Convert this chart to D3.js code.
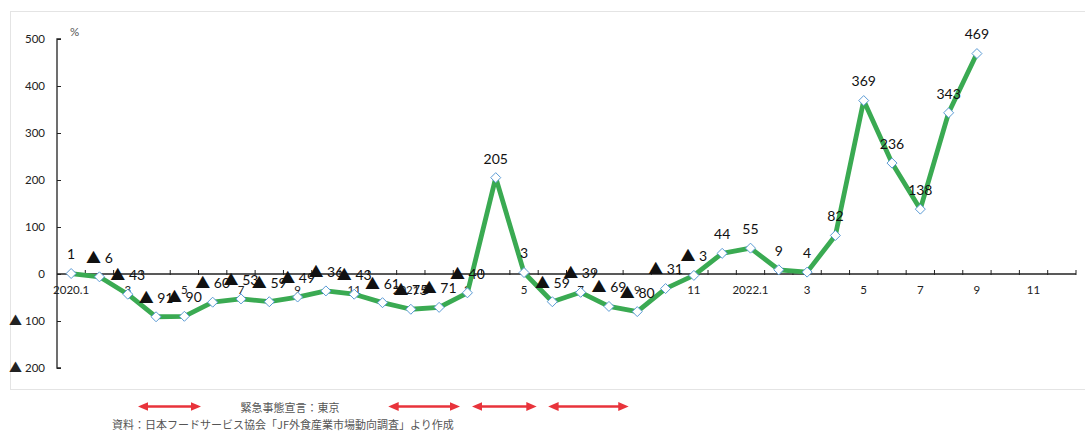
<!DOCTYPE html>
<html>
<head>
<meta charset="utf-8">
<script src="https://cdn.jsdelivr.net/npm/d3@7"></script>
<style>
  html, body { margin: 0; padding: 0; background: #fff; }
  svg { display: block; }
</style>
</head>
<body>
<svg id="chart" width="1085" height="432"></svg>
<script>
// Monthly year-on-year change (%) of restaurant sales, 2020.1 – 2022.12
const months = [
  "2020.1","2020.2","2020.3","2020.4","2020.5","2020.6","2020.7","2020.8","2020.9","2020.10","2020.11","2020.12",
  "2021.1","2021.2","2021.3","2021.4","2021.5","2021.6","2021.7","2021.8","2021.9","2021.10","2021.11","2021.12",
  "2022.1","2022.2","2022.3","2022.4","2022.5","2022.6","2022.7","2022.8","2022.9","2022.10","2022.11","2022.12"
];
const values = [
  1, -6, -43, -91, -90, -60, -53, -59, -49, -36, -43, -61,
  -75, -71, -40, 205, 3, -59, -39, -69, -80, -31, -3, 44,
  55, 9, 4, 82, 369, 236, 138, 343, 469
];
const yTicks = [500, 400, 300, 200, 100, 0, -100, -200];
// State-of-emergency periods in Tokyo, in month units from 2020.1
const emergencySpans = [[2.9, 5.05], [11.75, 14.2], [14.7, 16.9], [17.4, 20.15]];
const emergencyLabel = "緊急事態宣言：東京";
const sourceNote = "資料：日本フードサービス協会「JF外食産業市場動向調査」より作成";

const svg = d3.select("#chart");
const latin = "Lato, 'Noto Sans', sans-serif";
const cjk = "'Noto Sans CJK JP', 'Noto Sans', sans-serif";

// chart frame
svg.append("rect")
  .attr("x", 10.5).attr("y", 11.5).attr("width", 1090).attr("height", 378)
  .attr("fill", "none").attr("stroke", "#e4e4e4").attr("stroke-width", 1);

const plotLeft = 57, plotRight = 1076;
const x = d3.scaleBand().domain(months).range([plotLeft, plotRight]).paddingInner(0).paddingOuter(0);
const xCont = d3.scaleLinear().domain([0, months.length]).range([plotLeft, plotRight]);
const y = d3.scaleLinear().domain([-200, 500]).range([368, 39]);

// negative numbers are written with a leading black triangle
function writeValue(sel, v, triSize) {
  if (v < 0) {
    sel.append("tspan").attr("font-family", cjk).attr("font-size", triSize).text("▲");
    sel.append("tspan").text(" " + Math.abs(v));
  } else {
    sel.text(String(v));
  }
}

// y axis
const yAxis = svg.append("g").attr("transform", `translate(${plotLeft},0)`)
  .call(d3.axisRight(y).tickValues(yTicks).tickSize(4).tickFormat(""));
yAxis.select(".domain").attr("d", `M4,${y(500)}H0V${y(-200)}H4`).attr("stroke", "#222").attr("stroke-width", 1.3);
yAxis.selectAll(".tick line").attr("stroke", "#222");
svg.append("g").selectAll("text").data(yTicks).join("text")
  .attr("x", 45).attr("y", d => y(d)).attr("dy", "0.35em")
  .attr("text-anchor", "end")
  .attr("font-family", latin).attr("font-size", 11.5).attr("fill", "#222")
  .each(function (d) { writeValue(d3.select(this), d, 13); });
svg.append("text").attr("x", 70).attr("y", 36)
  .attr("font-family", latin).attr("font-size", 11.5).attr("fill", "#555").text("%");

// x axis along zero
const boundaries = d3.range(1, months.length + 1);
const xAxis = svg.append("g");
xAxis.append("line")
  .attr("x1", plotLeft).attr("x2", plotRight).attr("y1", y(0)).attr("y2", y(0))
  .attr("stroke", "#222").attr("stroke-width", 1.3);
xAxis.selectAll("line.tk").data(boundaries).join("line").attr("class", "tk")
  .attr("x1", d => xCont(d)).attr("x2", d => xCont(d))
  .attr("y1", y(0) - 4).attr("y2", y(0) + 1)
  .attr("stroke", "#222").attr("stroke-width", 1);
xAxis.selectAll("text").data(months.filter(m => +m.split(".")[1] % 2 === 1)).join("text")
  .attr("x", d => x(d) + x.bandwidth() / 2).attr("y", y(0) + 20)
  .attr("text-anchor", "middle")
  .attr("font-family", latin).attr("font-size", 11.5).attr("fill", "#222")
  .text(d => d.endsWith(".1") ? d : d.split(".")[1]);

// series line
const pts = values.map((v, i) => ({ m: months[i], v }));
const cx = d => x(d.m) + x.bandwidth() / 2;
svg.append("path").datum(pts)
  .attr("d", d3.line().x(cx).y(d => y(d.v)))
  .attr("fill", "none").attr("stroke", "#3aaa52").attr("stroke-width", 4.8)
  .attr("stroke-linejoin", "round");

// diamond markers
svg.append("g").selectAll("path").data(pts).join("path")
  .attr("transform", d => `translate(${cx(d)},${y(d.v)})`)
  .attr("d", "M0,-5L5,0L0,5L-5,0Z")
  .attr("fill", "#fff").attr("stroke", "#5b9bd5").attr("stroke-width", 1);

// data labels
svg.append("g").selectAll("text").data(pts).join("text")
  .attr("x", d => cx(d)).attr("y", d => y(d.v) - 19).attr("dy", "0.35em")
  .attr("text-anchor", "middle")
  .attr("font-family", latin).attr("font-size", 14).attr("fill", "#111")
  .each(function (d) { writeValue(d3.select(this), d.v, 15); });

// emergency-period arrows
const defs = svg.append("defs");
["start", "end"].forEach(k => {
  defs.append("marker").attr("id", "ah-" + k)
    .attr("viewBox", "0 0 10 10").attr("refX", 2).attr("refY", 5)
    .attr("markerWidth", 4).attr("markerHeight", 3.4).attr("markerUnits", "strokeWidth")
    .attr("orient", k === "end" ? "auto" : "auto-start-reverse")
    .attr("preserveAspectRatio", "none")
    .append("path").attr("d", "M0,0L10,5L0,10Z").attr("fill", "#e8333b");
});
svg.append("g").selectAll("line").data(emergencySpans).join("line")
  .attr("x1", d => xCont(d[0]) + 7).attr("x2", d => xCont(d[1]) - 7)
  .attr("y1", 406.5).attr("y2", 406.5)
  .attr("stroke", "#e8333b").attr("stroke-width", 2.6)
  .attr("marker-start", "url(#ah-start)").attr("marker-end", "url(#ah-end)");

svg.append("text").attr("x", 290).attr("y", 412)
  .attr("text-anchor", "middle")
  .attr("font-family", cjk).attr("font-size", 11).attr("fill", "#555")
  .text(emergencyLabel);
svg.append("text").attr("x", 112).attr("y", 429)
  .attr("font-family", cjk).attr("font-size", 11).attr("fill", "#555")
  .text(sourceNote);
</script>
</body>
</html>
